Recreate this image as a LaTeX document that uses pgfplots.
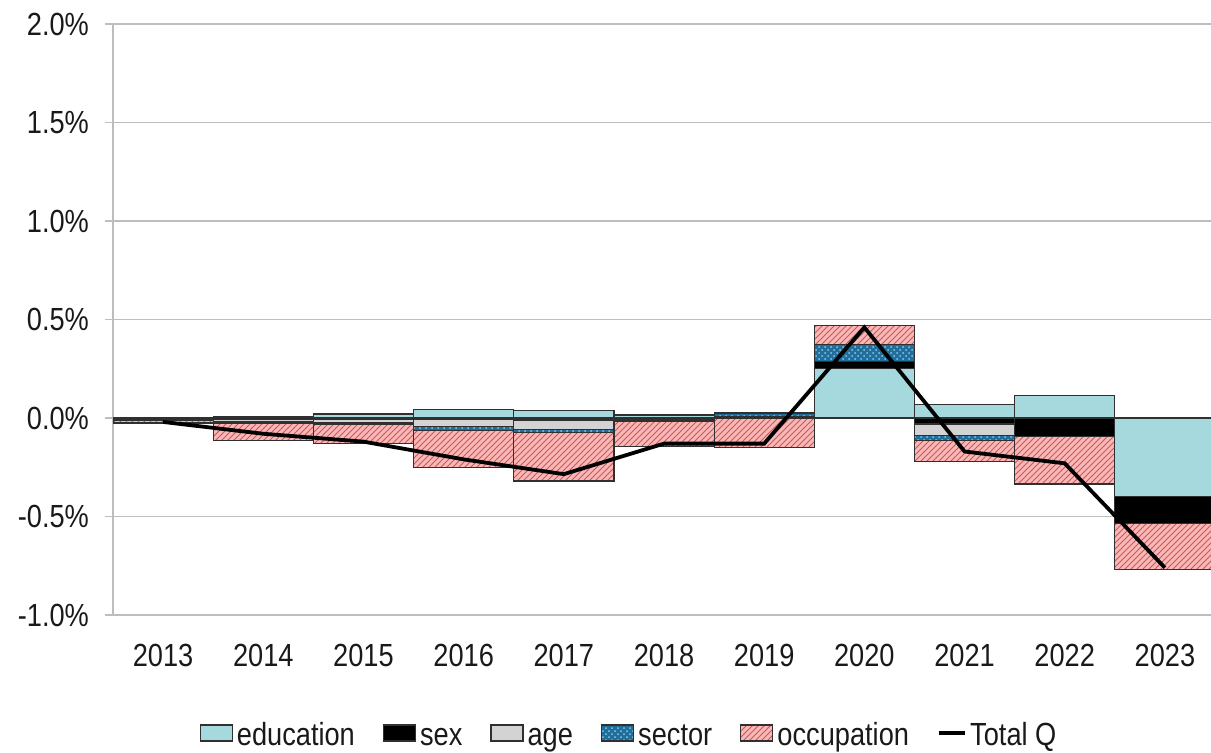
\documentclass[border=0pt]{standalone}
\usepackage{fontspec}
\setmainfont{Liberation Sans}[FakeStretch=0.85]
\usepackage{pgfplots}
\usepackage{pgfplotstable}
\pgfplotsset{compat=1.18}
\usetikzlibrary{patterns}

\definecolor{edu}{HTML}{A5D9DE}
\definecolor{agec}{HTML}{D3D3D3}
\definecolor{sect}{HTML}{1F6E9C}
\definecolor{sectdot}{HTML}{8FC8E0}
\definecolor{occ}{HTML}{F6B8B8}
\definecolor{occline}{HTML}{D9534F}
\definecolor{gridc}{HTML}{BDBDBD}
\definecolor{edgec}{HTML}{303030}

% positive parts (stacked upward from zero)
\pgfplotstableread{
x edu sex age sec occ
0 0 0 0 0 0
1 0.005 0 0 0 0
2 0.02 0 0 0 0
3 0.045 0 0 0 0
4 0.04 0 0 0 0
5 0.015 0 0 0 0
6 0.005 0 0 0.02 0
7 0.25 0.035 0 0.09 0.095
8 0.067 0 0 0 0
9 0.113 0 0 0 0
10 0 0 0 0 0
}\pos
% negative parts (stacked downward from zero)
\pgfplotstableread{
x edu sex age sec occ
0 0 0 -0.005 -0.005 -0.015
1 0 -0.005 -0.015 -0.005 -0.09
2 0 -0.005 -0.02 -0.005 -0.1
3 0 -0.005 -0.04 -0.02 -0.185
4 0 -0.01 -0.05 -0.015 -0.245
5 0 -0.005 -0.005 -0.005 -0.13
6 0 0 0 0 -0.15
7 0 0 0 0 0
8 0 -0.03 -0.06 -0.025 -0.105
9 0 -0.095 0 0 -0.24
10 -0.40 -0.135 0 0 -0.235
}\negtab
\pgfplotstableread{
x total
0 -0.02
1 -0.08
2 -0.12
3 -0.21
4 -0.285
5 -0.13
6 -0.13
7 0.46
8 -0.17
9 -0.23
10 -0.76
}\tot

\pgfplotsset{
  common/.style={
    at={(56.5pt,68.5pt)}, anchor=south west,
    width=549pt, height=295.5pt, scale only axis,
    xmin=-0.5, xmax=10.46, ymin=-1, ymax=2,
  },
  barstyle/.style={ybar stacked, bar width=1,
    every axis plot/.append style={draw=edgec, line width=0.6pt}},
  secstyle/.style={fill=sect, postaction={pattern=crosshatch dots, pattern color=sectdot}},
  occstyle/.style={fill=occ, postaction={pattern=north east lines, pattern color=occline}},
  boxlegend/.style={legend image code/.code={\draw[##1] (0pt,-1.5pt) rectangle (16pt,6.5pt);}},
  linelegend/.style={legend image code/.code={\draw[##1] (0pt,2.5pt) -- (13pt,2.5pt);}},
}

\begin{document}
\begin{tikzpicture}
% axis 1: frame, grid, positive stacks, legend
\begin{axis}[
  common, barstyle,
  axis lines*=left,
  x axis line style={draw=none},
  y axis line style={gridc, line width=0.9pt},
  xtick={0,1,2,3,4,5,6,7,8,9,10},
  xticklabels={2013,2014,2015,2016,2017,2018,2019,2020,2021,2022,2023},
  xtick style={draw=none},
  ytick={-1,-0.5,0,0.5,1,1.5,2},
  yticklabels={-1.0\%,-0.5\%,0.0\%,0.5\%,1.0\%,1.5\%,2.0\%},
  ytick style={gridc, line width=0.9pt},
  tick align=outside, major tick length=4pt,
  ymajorgrids, grid style={gridc, line width=0.9pt},
  tick label style={font=\fontsize{16}{19}\selectfont, text=black!90},
  yticklabel style={xshift=-4.5pt},
  xticklabel style={yshift=-7pt},
  boxlegend,
  legend style={at={(0.470,-0.208)}, anchor=center, draw=none, fill=none,
    legend columns=-1, font=\fontsize{16}{19}\selectfont, text=black!90,
    nodes={text height=11.5pt, text depth=3.5pt, inner sep=1pt},
    /tikz/every even column/.append style={column sep=13pt},
    /tikz/every odd column/.append style={column sep=1pt}},
]
\addplot[fill=edu] table[x=x,y=edu]{\pos};
\addlegendentry{education}
\addplot[fill=black] table[x=x,y=sex]{\pos};
\addlegendentry{sex}
\addplot[fill=agec] table[x=x,y=age]{\pos};
\addlegendentry{age}
\addplot[secstyle] table[x=x,y=sec]{\pos};
\addlegendentry{sector}
\addplot[occstyle] table[x=x,y=occ]{\pos};
\addlegendentry{occupation}
\addlegendimage{linelegend, draw=black, line width=1.6pt}
\addlegendentry{Total Q}
\end{axis}
% axis 2: negative stacks
\begin{axis}[common, barstyle, hide axis]
\addplot[fill=edu] table[x=x,y=edu]{\negtab};
\addplot[fill=black] table[x=x,y=sex]{\negtab};
\addplot[fill=agec] table[x=x,y=age]{\negtab};
\addplot[secstyle] table[x=x,y=sec]{\negtab};
\addplot[occstyle] table[x=x,y=occ]{\negtab};
\end{axis}
% axis 3: Total Q line
\begin{axis}[common, hide axis]
\addplot[sharp plot, draw=black, line width=1.9pt, mark=none] table[x=x,y=total]{\tot};
\end{axis}
\pgfresetboundingbox
\useasboundingbox (0,0) rectangle (605.5pt,376pt);
\end{tikzpicture}
\end{document}
